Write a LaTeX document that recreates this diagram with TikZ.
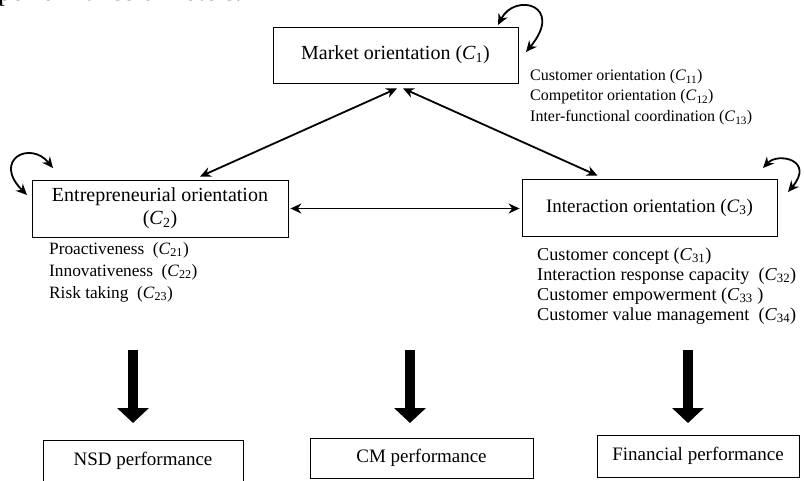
\documentclass[tikz,border=0pt]{standalone}
\usepackage{fontspec}
\setmainfont{Liberation Serif}
\usetikzlibrary{arrows.meta}
\newcommand\Cx[1]{\textit{C}\textsubscript{#1}}
\begin{document}
\begin{tikzpicture}[x=1pt,y=-1pt,
  box/.style={draw, line width=0.8pt, inner sep=0pt, font=\fontsize{19}{23}\selectfont, align=center},
  lbl/.style={anchor=west, inner sep=0pt},
  mlbl/.style={lbl, font=\fontsize{16}{19}\selectfont},
  elbl/.style={lbl, font=\fontsize{17.3}{20}\selectfont},
  ilbl/.style={lbl, font=\fontsize{18.2}{20}\selectfont},
  link/.style={line width=1.8pt, {Stealth[length=11pt,width=10pt]}-{Stealth[length=11pt,width=10pt]}},
  blockarrow/.style={line width=10pt, -{Triangle[length=15pt,width=31pt]}}
]
\fill[white] (0,0) rectangle (804,480);
\useasboundingbox (0,0) rectangle (804,480);
\clip (0,0) rectangle (804,480);

% clipped caption fragment at top
\node[anchor=base west, inner sep=0pt, font=\fontsize{27}{30}\selectfont] (cap) at (-2,0.5) {performance of hotels.};

% main boxes
\node[box, font=\fontsize{20}{23}\selectfont, minimum width=245pt, minimum height=56pt] (market) at (395.5,55) {Market orientation (\Cx{1})};
\node[box, font=\fontsize{20}{23}\selectfont, minimum width=256pt, minimum height=57pt] (entre) at (160,208.5) {Entrepreneurial orientation\\(\Cx{2})};
\node[box, minimum width=255pt, minimum height=57pt] (inter) at (649.5,207.5) {Interaction orientation (\Cx{3})};
\node[box, minimum width=200pt, minimum height=42pt] (nsd) at (143,461) {NSD performance};
\node[box, minimum width=223pt, minimum height=40pt] (cm) at (421.5,458) {CM performance};
\node[box, minimum width=202pt, minimum height=42pt] (fin) at (698,456) {Financial performance};

% sub labels
\node[mlbl] (c11) at (530,77) {Customer orientation (\Cx{11})};
\node[mlbl] (c12) at (530,97) {Competitor orientation (\Cx{12})};
\node[mlbl] (c13) at (530,118) {Inter-functional coordination (\Cx{13})};
\node[elbl] (c21) at (49,250) {Proactiveness\ \ (\Cx{21})};
\node[elbl] (c22) at (49,272) {Innovativeness\ \ (\Cx{22})};
\node[elbl] (c23) at (49,294) {Risk taking\ \ (\Cx{23})};
\node[ilbl] (c31) at (537,256) {Customer concept (\Cx{31})};
\node[ilbl] (c32) at (537,276) {Interaction response capacity\ \ (\Cx{32})};
\node[ilbl] (c33) at (537,296) {Customer empowerment (\Cx{33}\ )};
\node[ilbl] (c34) at (537,316) {Customer value management\ \ (\Cx{34})};

% links between orientations
\draw[link] ([xshift=1.5pt,yshift=-5pt]market.south) -- ([xshift=40pt,yshift=3pt]entre.north);
\draw[link] ([xshift=7.5pt,yshift=-5pt]market.south) -- ([xshift=-52pt,yshift=3pt]inter.north);
\draw[link] ([xshift=2pt]entre.east) -- ([xshift=-2pt]entre.east -| inter.west);

% self loops
\coordinate (mlA) at (498,25);
\coordinate (mlB) at (526,52);
\draw[link] (mlA) .. controls (515,-8) and (565,5) .. (mlB);
\coordinate (elA) at (53,168);
\coordinate (elB) at (27,195);
\draw[link] (elA) .. controls (30,140) and (-8,160) .. (elB);
\coordinate (ilA) at (763,168);
\coordinate (ilB) at (788,192);
\draw[link] (ilA) .. controls (778,152) and (815,160) .. (ilB);

% block arrows
\coordinate (b1) at (133,350); \coordinate (t1) at (133,423);
\coordinate (b2) at (410,350); \coordinate (t2) at (410,423);
\coordinate (b3) at (688,350); \coordinate (t3) at (688,423);
\draw[blockarrow] (b1) -- (t1);
\draw[blockarrow] (b2) -- (t2);
\draw[blockarrow] (b3) -- (t3);
\end{tikzpicture}
\end{document}
